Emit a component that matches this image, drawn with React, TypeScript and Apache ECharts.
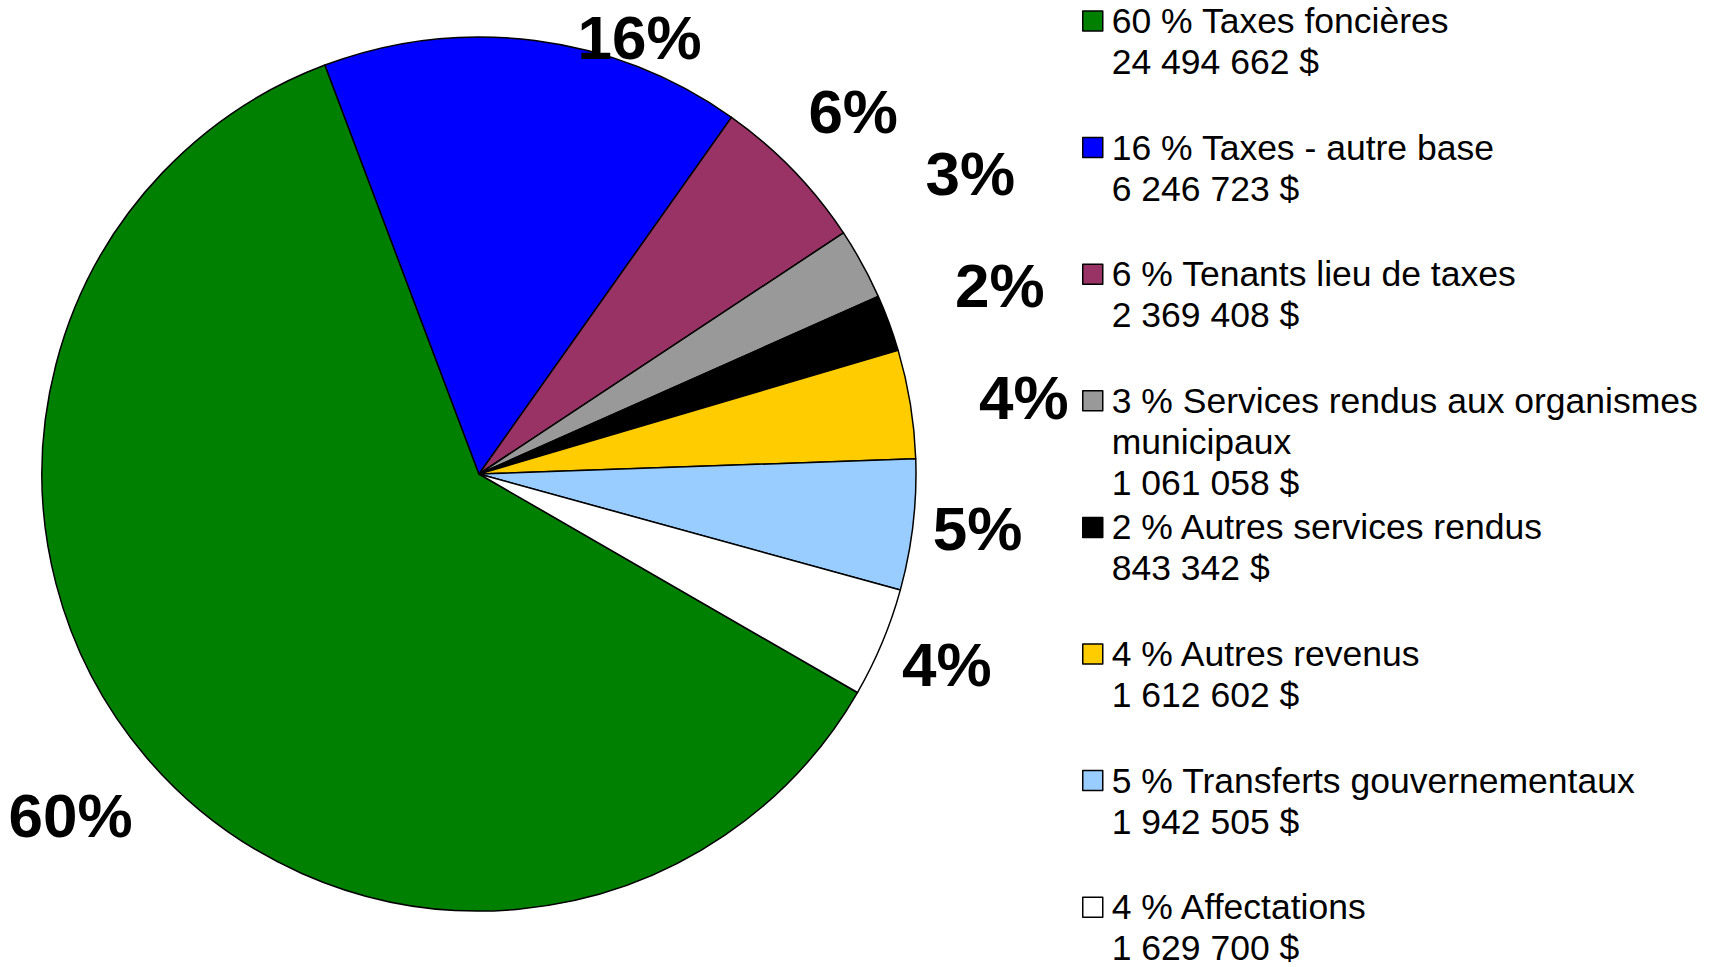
import React, { useEffect, useRef } from 'react';
import * as echarts from 'echarts';

// ---- data ----
const categories = [
  'Taxes foncières',
  'Taxes - autre base',
  'Tenants lieu de taxes',
  'Services rendus aux organismes\nmunicipaux',
  'Autres services rendus',
  'Autres revenus',
  'Transferts gouvernementaux',
  'Affectations',
];
const amounts = [24494662, 6246723, 2369408, 1061058, 843342, 1612602, 1942505, 1629700];
const percentLabels = [60, 16, 6, 3, 2, 4, 5, 4];

// ---- styling ----
const colors = ['#008000', '#0000FF', '#993366', '#999999', '#000000', '#FFCC00', '#99CCFF', '#FFFFFF'];
const labelOffset = [96, 30, 84, 138, 117, 113, 65, 68];
const labelNudge: number[][] = [[-2, -3], [101, 27], [0, 0], [-13, -24], [1, 3], [2, 12], [0, -4], [2, -4]];
const FONT = "'Liberation Sans', Arial, sans-serif";

function fmtAmount(v: number): string {
  return String(v).replace(/\B(?=(\d{3})+(?!\d))/g, ' ') + ' $';
}

const LINE_H = 41;
const BOX_H = 205;
const PITCH = 126.6;
const FIRST_ICON_TOP = 11;
const ICON = 20;

export default function App() {
  const ref = useRef<HTMLDivElement>(null);
  useEffect(() => {
    if (!ref.current) return;
    const chart = echarts.init(ref.current, undefined, { renderer: 'svg' });

    const legends = categories.map((name, i) => {
      const nameLines = name.split('\n');
      const lines = [`${percentLabels[i]} % ${nameLines[0]}`, ...nameLines.slice(1), fmtAmount(amounts[i])];
      const n = lines.length;
      const pt = (BOX_H - LINE_H) / 2;
      const pb = (BOX_H - (2 * n - 1) * LINE_H) / 2;
      return {
        show: true,
        orient: 'vertical',
        left: 1082,
        top: FIRST_ICON_TOP + i * PITCH - (BOX_H / 2 - ICON / 2),
        padding: 0,
        itemGap: 0,
        itemWidth: ICON,
        itemHeight: ICON,
        icon: 'rect',
        selectedMode: false,
        data: [{ name }],
        itemStyle: { borderColor: '#000', borderWidth: 1.5 },
        formatter: () => lines.map((l) => `{a|${l}}`).join('\n'),
        textStyle: {
          color: '#000',
          fontFamily: FONT,
          fontSize: 35.5,
          padding: [pt, 0, pb, 4],
          backgroundColor: 'rgba(0,0,0,0)',
          rich: {
            a: { fontFamily: FONT, fontSize: 35.5, lineHeight: LINE_H, color: '#000' },
          },
        },
      };
    });

    chart.setOption({
      animation: false,
      backgroundColor: '#ffffff',
      legend: legends,
      series: [
        {
          type: 'pie',
          center: [479, 474],
          radius: 437,
          startAngle: 330,
          clockwise: true,
          avoidLabelOverlap: false,
          itemStyle: { borderColor: '#000', borderWidth: 1.5 },
          label: {
            show: true,
            position: 'outside',
            formatter: (p: any) => `${percentLabels[p.dataIndex]}%`,
            fontFamily: FONT,
            fontSize: 62,
            fontWeight: 'bold',
            color: '#000',
            distanceToLabelLine: 0,
          },
          labelLine: { show: false, length2: 0 },
          labelLayout: (p: any) => ({
            align: 'center',
            verticalAlign: 'middle',
            dx: labelNudge[p.dataIndex][0],
            dy: labelNudge[p.dataIndex][1],
          }),
          emphasis: { disabled: true },
          data: categories.map((name, i) => ({
            name,
            value: amounts[i],
            itemStyle: { color: colors[i] },
            labelLine: { show: false, length: labelOffset[i], length2: 0 },
          })),
        },
      ],
    });
    return () => chart.dispose();
  }, []);
  return (
    <div
      ref={ref}
      style={{ position: 'fixed', left: 0, top: 0, width: '1717px', height: '967px', background: '#fff' }}
    />
  );
}
